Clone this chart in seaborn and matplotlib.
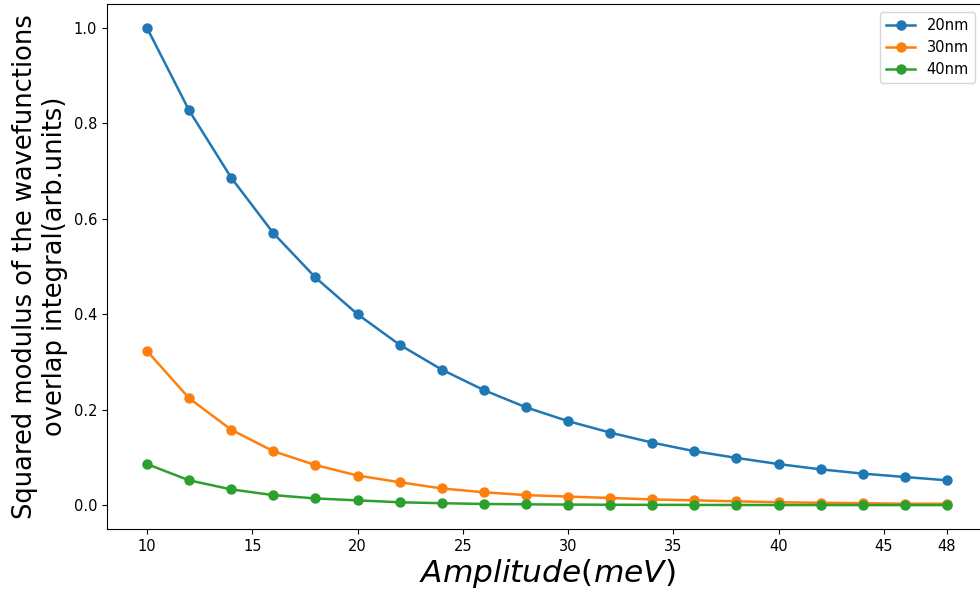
"""
Overlap integral of the wavefunctions vs. amplitude for three well widths.
"""

import pandas as pd
import matplotlib.pyplot as plt
import seaborn as sns

# amplitude (meV)
amplitude = [10, 12, 14, 16, 18, 20, 22, 24, 26, 28,
             30, 32, 34, 36, 38, 40, 42, 44, 46, 48]

# squared modulus of the overlap integral (arb. units)
overlap_20nm = [1.000, 0.827, 0.686, 0.570, 0.477, 0.400, 0.336, 0.284, 0.241, 0.205,
                0.176, 0.152, 0.131, 0.113, 0.099, 0.086, 0.075, 0.066, 0.059, 0.052]
overlap_30nm = [0.323, 0.224, 0.158, 0.113, 0.084, 0.062, 0.048, 0.035, 0.027, 0.021,
                0.018, 0.015, 0.012, 0.010, 0.008, 0.006, 0.005, 0.004, 0.003, 0.003]
overlap_40nm = [0.086, 0.052, 0.033, 0.021, 0.014, 0.010, 0.006, 0.004, 0.0025, 0.0017,
                0.0012, 0.0008, 0.0006, 0.0004, 0.0003, 0.0002, 0.0002, 0.0001, 0.0001, 0.0001]

series_labels = ["20nm", "30nm", "40nm"]
x_ticks = [10, 15, 20, 25, 30, 35, 40, 45, 48]

df = pd.DataFrame({
    "amplitude": amplitude * 3,
    "overlap": overlap_20nm + overlap_30nm + overlap_40nm,
    "width": [lab for lab in series_labels for _ in amplitude],
})

colors = sns.color_palette("tab10", 3)

fig = plt.figure(figsize=(9.8, 5.96), dpi=100)
# the original was cropped on the right, so the axes runs past the figure edge
ax = fig.add_axes([107 / 980, 67 / 596, 880 / 980, 525 / 596])

for label, color in zip(series_labels, colors):
    sub = df[df["width"] == label]
    sns.lineplot(
        data=sub, x="amplitude", y="overlap", ax=ax, color=color, label=label,
        marker="o", markersize=7.5, markeredgewidth=0, linewidth=1.8,
    )

ax.set_xlim(8.1, 49.9)
ax.set_ylim(-0.05, 1.05)
ax.set_xticks(x_ticks)
ax.tick_params(labelsize=10.5)

ax.set_xlabel(r"$Amplitude(meV)$", fontsize=22.5, labelpad=2)
ax.set_ylabel("Squared modulus of the wavefunctions\noverlap integral(arb.units)", fontsize=18.5)

ax.legend(
    loc="upper right", bbox_to_anchor=(975 / 980, 1 - 12 / 596),
    bbox_transform=fig.transFigure, borderaxespad=0, fontsize=10.5,
)

fig.savefig("out.png", dpi=100)
